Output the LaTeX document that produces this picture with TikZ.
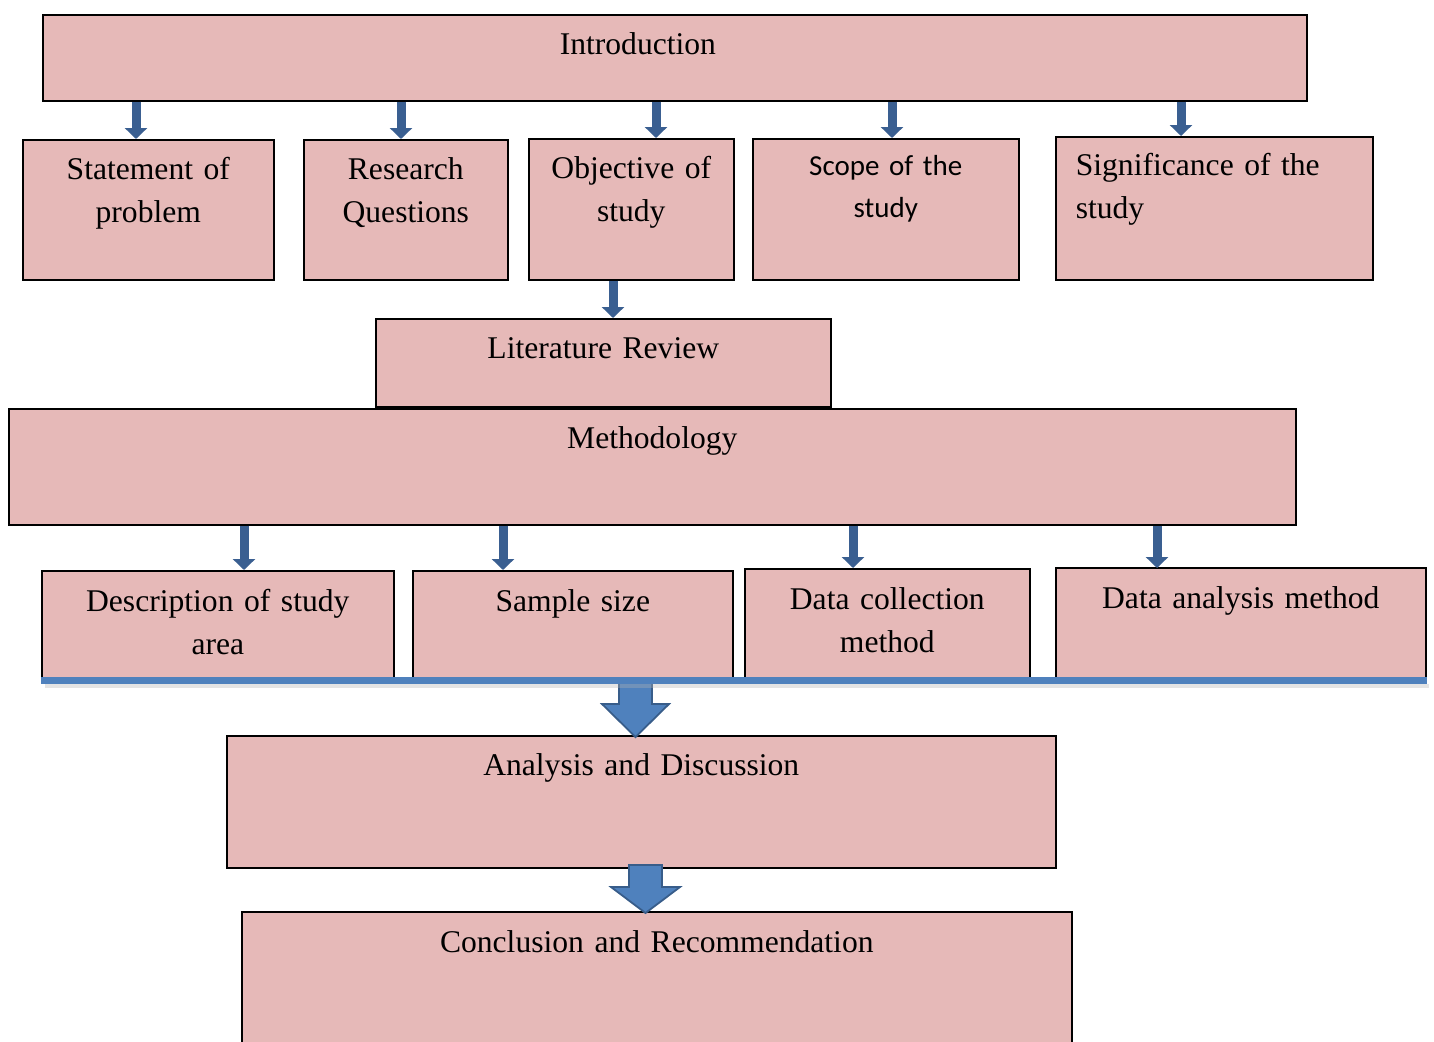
\documentclass[tikz,border=0pt]{standalone}
\usepackage{fontspec}
\setmainfont{Liberation Serif}
\newfontfamily\carlito{Carlito}
\usetikzlibrary{arrows.meta, positioning, calc}
\definecolor{cPink}{RGB}{230,185,184}
\definecolor{cArrow}{RGB}{58,95,145}
\definecolor{cBar}{RGB}{79,129,189}
\definecolor{cBarDark}{RGB}{56,93,138}

\begin{document}
\begin{tikzpicture}[x=1pt, y=-1pt,
    box/.style={draw=black, line width=1.6pt, fill=cPink, anchor=north west, inner sep=0pt,
      align=center, text height=40pt, font=\fontsize{31.6}{42.5}\selectfont},
    down/.style={cArrow, line width=9pt, -{Triangle[width=22pt, length=11pt]}},
    fat/.style={fill=cBar, draw=cBarDark, line width=1.8pt, line join=miter}]
  \useasboundingbox (0,0) rectangle (1434,1041);
  % top row
  \node[box, text width=1264pt, text depth=46pt, align=left] (intro) at (42,14) {\hspace*{517pt}Introduction};
  \node[box, text width=251pt,  text depth=100pt] (stmt)  at (22,139)  {Statement of\\problem};
  \node[box, text width=204pt,  text depth=100pt] (rq)    at (303,139) {Research\\Questions};
  \node[box, text width=205pt,  text depth=101pt] (obj)   at (528,138) {Objective of\\study};
  \node[box, text width=266pt,  text height=37pt, text depth=104pt,
        font=\carlito\fontsize{29}{42}\selectfont] (scope) at (752,138) {Scope of the\\study};
  \node[box, text width=277pt,  inner xsep=20pt, align=left, text height=39pt, text depth=104pt]
        (sig) at (1055,136) {Significance of the\\study};
  \node[box, text width=455pt,  text depth=48pt]  (lit)   at (375,318) {Literature Review};
  \node[box, text width=1287pt, text depth=76pt]  (meth)  at (8,408)   {Methodology};
  % methods row
  \node[box, text width=352pt,  text height=41pt, text depth=66pt] (desc) at (41,570)   {Description of study\\area};
  \node[box, text width=320pt,  text height=41pt, text depth=66pt] (samp) at (412,570)  {Sample size};
  \node[box, text width=285pt,  text height=41pt, text depth=68pt] (coll) at (744,568)  {Data collection\\method};
  \node[box, text width=370pt,  text height=41pt, text depth=69pt] (anal) at (1055,567) {Data analysis method};
  \node[box, text width=829pt,  text depth=92pt]  (disc)  at (226,735) {Analysis and Discussion};
  \node[box, text width=830pt,  text height=41pt, text depth=99pt] (conc) at (241,911) {Conclusion and Recommendation};

  % small arrows
  \draw[down] (intro.south -| 136,0)  -- (stmt.north -| 136,0);
  \draw[down] (intro.south -| 401,0)  -- (rq.north -| 401,0);
  \draw[down] (intro.south -| 656,0)  -- (obj.north -| 656,0);
  \draw[down] (intro.south -| 892,0)  -- (scope.north -| 892,0);
  \draw[down] (intro.south -| 1181,0) -- (sig.north -| 1181,0);
  \draw[down] (obj.south -| 613,0)    -- (lit.north -| 613,0);
  \draw[down] (meth.south -| 244,0)   -- (desc.north -| 244,0);
  \draw[down] (meth.south -| 503,0)   -- (samp.north -| 503,0);
  \draw[down] (meth.south -| 853,0)   -- (coll.north -| 853,0);
  \draw[down] (meth.south -| 1157,0)  -- ([yshift=-1pt]anal.north -| 1157,0);

  % fat arrows
  \draw[fat] ($(disc.north -| 635.5,0)+(0,2)$) -- ++(-33.5,-33) -- ++(17,0) -- ++(0,-25)
    -- ++(33,0) -- ++(0,25) -- ++(17,0) -- cycle;
  \draw[fat] ($(conc.north -| 645.5,0)+(0,2)$) -- ++(-34.5,-26) -- ++(18,0) -- ++(0,-22)
    -- ++(33,0) -- ++(0,22) -- ++(18,0) -- cycle;

  % bar under the methods
  \draw[line width=4pt, black!30, opacity=0.35] ($(desc.south west)+(4,7)$) -- ($(anal.south east)+(2,7)$);
  \draw[line width=7pt, cBar] ($(desc.south west)+(0,2)$) -- ($(anal.south east)+(0,2)$);
\end{tikzpicture}
\end{document}
